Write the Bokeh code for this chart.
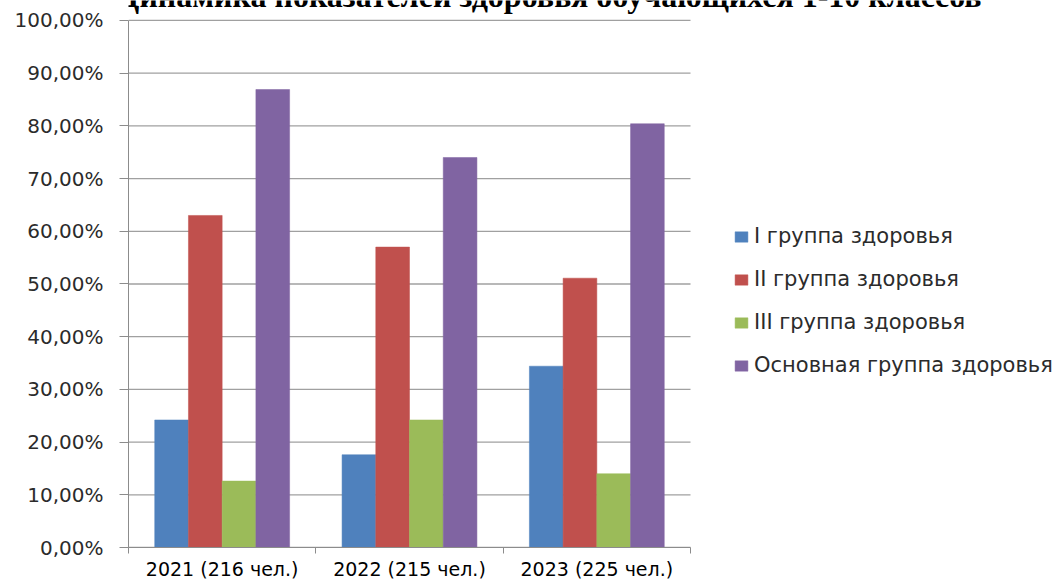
import numpy as np
from bokeh.plotting import figure
from bokeh.models import Range1d, FixedTicker, Legend, LegendItem, Label, ColumnDataSource
from bokeh.embed import file_html
from bokeh.resources import INLINE

title_text = "Динамика показателей здоровья обучающихся 1-10 классов"
categories = ["2021 (216 чел.)", "2022 (215 чел.)", "2023 (225 чел.)"]
series_names = ["I группа здоровья", "II группа здоровья", "III группа здоровья",
                "Основная группа здоровья"]
group_1 = [24.2, 17.6, 34.4]
group_2 = [63.0, 57.0, 51.1]
group_3 = [12.6, 24.2, 14.0]
main_group = [86.9, 74.0, 80.4]
colors = ["#4f81bd", "#c0504d", "#9bbb59", "#8064a2"]
y_ticks = [0, 10, 20, 30, 40, 50, 60, 70, 80, 90, 100]
y_tick_labels = ["0,00%", "10,00%", "20,00%", "30,00%", "40,00%", "50,00%",
                 "60,00%", "70,00%", "80,00%", "90,00%", "100,00%"]

series = [group_1, group_2, group_3, main_group]
n_cat = len(categories)
n_ser = len(series)
bar_w = 0.18
offsets = (np.arange(n_ser) - (n_ser - 1) / 2) * bar_w
centers = np.arange(n_cat) + 0.5

# layout (pixels)
W, H = 1061, 582
left_px, bottom_px = 128, 34
plot_top_px, plot_right_px = 20, 690          # where 100% and the last category end
frame_w = W - left_px
frame_h = H - bottom_px
px_per_cat = (plot_right_px - left_px) / n_cat
px_per_pct = (frame_h - plot_top_px) / 100.0
x_end = frame_w / px_per_cat
y_end = frame_h / px_per_pct

p = figure(width=W, height=H, output_backend="svg", toolbar_location=None,
           x_range=Range1d(0, x_end), y_range=Range1d(0, y_end),
           min_border_left=left_px, min_border_right=0, min_border_top=0,
           min_border_bottom=bottom_px)
p.outline_line_color = None
p.background_fill_color = "white"
p.border_fill_color = "white"
p.xgrid.visible = False
p.ygrid.visible = False

# horizontal gridlines limited to the plot area
p.segment(x0=[0] * len(y_ticks), x1=[n_cat] * len(y_ticks), y0=y_ticks, y1=y_ticks,
          line_color="#a0a0a0", line_width=1.3)

items = []
for i, (vals, name, col) in enumerate(zip(series, series_names, colors)):
    src = ColumnDataSource(dict(x=centers + offsets[i], top=vals))
    r = p.vbar(x="x", top="top", bottom=0, width=bar_w, source=src,
               fill_color=col, line_color=col, line_width=0.5)
    items.append(LegendItem(label=name, renderers=[r]))

# y axis
p.yaxis.bounds = (0, 100)
p.yaxis.ticker = FixedTicker(ticks=y_ticks, minor_ticks=[])
p.yaxis.major_label_overrides = {t: l for t, l in zip(y_ticks, y_tick_labels)}
p.yaxis.axis_line_color = "#8c8c8c"
p.yaxis.major_tick_line_color = "#8c8c8c"
p.yaxis.major_tick_out = 9
p.yaxis.major_tick_in = 0
p.yaxis.major_label_standoff = 16
p.yaxis.major_label_text_font = "DejaVu Sans"
p.yaxis.major_label_text_font_size = "20px"
p.yaxis.major_label_text_color = "#2b2b2b"

# x axis
bounds = list(np.arange(n_cat + 1).astype(float))
p.xaxis.bounds = (0, n_cat)
p.xaxis.ticker = FixedTicker(ticks=list(centers), minor_ticks=bounds)
p.xaxis.major_label_overrides = {float(c): lab for c, lab in zip(centers, categories)}
p.xaxis.axis_line_color = "#8c8c8c"
p.xaxis.major_tick_out = 0
p.xaxis.major_tick_in = 0
p.xaxis.minor_tick_out = 6
p.xaxis.minor_tick_in = 0
p.xaxis.minor_tick_line_color = "#8c8c8c"
p.xaxis.major_label_standoff = 4
p.xaxis.major_label_text_font = "DejaVu Sans"
p.xaxis.major_label_text_font_size = "19px"
p.xaxis.major_label_text_color = "black"

legend = Legend(items=items, location=(605, 170), orientation="vertical")
legend.border_line_alpha = 0
legend.background_fill_alpha = 0
legend.padding = 0
legend.margin = 0
legend.spacing = 19
legend.glyph_width = 16
legend.glyph_height = 13
legend.label_height = 20
legend.label_standoff = 5
legend.label_text_font = "DejaVu Sans"
legend.label_text_font_size = "21px"
legend.label_text_color = "#2b2b2b"
p.add_layout(legend, "center")

title = Label(x=n_cat / 2, y=100 + 25 / px_per_pct, x_offset=140, text=title_text,
              text_align="center", text_baseline="alphabetic",
              text_font="Liberation Serif", text_font_style="bold",
              text_font_size="32px", text_color="black")
p.add_layout(title)

open("out.html", "w").write(file_html(p, INLINE))
